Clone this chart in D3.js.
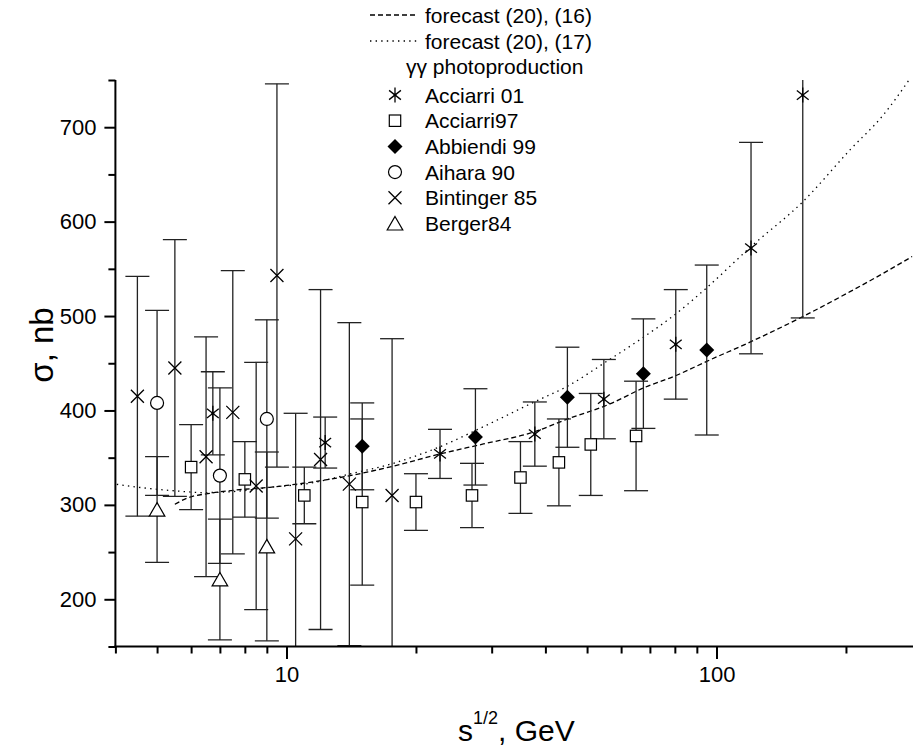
<!DOCTYPE html>
<html>
<head>
<meta charset="utf-8">
<script src="https://cdn.jsdelivr.net/npm/d3@7"></script>
<style>
  body { margin: 0; background: #fff; }
  text { font-family: "Liberation Sans", Arial, sans-serif; fill: #000; }
</style>
</head>
<body>
<div id="container"></div>
<script>
// gamma-gamma photoproduction data: sqrt(s) in GeV, sigma in nb, symmetric errors
const acciarri01X = [6.74, 12.3, 22.75, 37.8, 54.7, 80.4, 120.3, 158.7];
const acciarri01Y = [397, 366, 354, 375, 412, 470, 572, 734];
const acciarri01E = [44, 27, 26, 34, 42, 58, 112, 236];

const acciarri97X = [6, 8, 11, 15, 20, 27, 35, 43, 51, 65];
const acciarri97Y = [340, 327, 310, 303, 303, 310, 329, 345, 364, 373];
const acciarri97E = [45, 40, 30, 88, 30, 34, 38, 46, 54, 58];

const abbiendi99X = [15, 27.5, 45, 67.6, 94.9];
const abbiendi99Y = [362, 372, 414, 439, 464];
const abbiendi99E = [46, 51, 53, 58, 90];

const aihara90X = [5, 7, 9];
const aihara90Y = [408, 331, 391];
const aihara90E = [98, 93, 105];

const bintinger85X = [4.5, 5.5, 6.5, 7.5, 8.5, 9.5, 10.5, 12, 14, 17.6];
const bintinger85Y = [415, 445, 351, 398, 320, 543, 264, 348, 322, 310];
const bintinger85E = [127, 136, 127, 150, 131, 203, 133, 180, 171, 166];

const berger84X = [5, 7, 9];
const berger84Y = [295, 221, 256];
const berger84E = [56, 64, 100];

// forecast curves
const forecast16X = [5.5, 5.86, 6.64, 7.66, 9.15, 10.94, 13.32, 17.72, 22.75, 28.7, 37.8, 44.8, 56.5, 67.6, 80.8, 94.9, 120.3, 158.7, 204.4, 244.3, 285];
const forecast16Y = [300.6, 307, 312.3, 315.8, 318.6, 322.9, 329, 341, 353.9, 364.5, 377.5, 390.6, 406.9, 423.8, 437.3, 452, 472.9, 499.4, 525.8, 545.3, 563];

const forecast17X = [4.03, 4.65, 5.56, 6.41, 7.93, 9.15, 11.34, 14.05, 17.72, 22.75, 28.7, 37.8, 44.8, 56.5, 67.6, 80.8, 94.9, 120.3, 158.7, 204.4, 244.3, 279.3, 295];
const forecast17Y = [321.8, 318, 314.7, 313, 315, 318.6, 322.9, 332.7, 344, 361.6, 382.8, 409.3, 425.2, 454.2, 477.5, 503, 530, 573.5, 621, 676, 713, 749, 765];

const xMajorTicks = [10, 100];
const xMinorTicks = [4, 5, 6, 7, 8, 9, 20, 30, 40, 50, 60, 70, 80, 90, 200];
const yMajorTicks = [200, 300, 400, 500, 600, 700];
const yMinorTicks = [150, 250, 350, 450, 550, 650, 750];

const width = 913, height = 747;
const plotLeft = 115.4, plotBottom = 646.5, plotTop = 80;

const svg = d3.select("#container").append("svg")
  .attr("width", width)
  .attr("height", height);

const x = d3.scaleLog().domain([4, 300]).range([plotLeft, plotLeft + 430 * Math.log10(75)]);
const y = d3.scaleLinear().domain([150, 750]).range([plotBottom, plotTop]);

svg.append("defs").append("clipPath").attr("id", "plot")
  .append("rect")
  .attr("x", plotLeft).attr("y", plotTop)
  .attr("width", width - plotLeft).attr("height", plotBottom - plotTop);

const plot = svg.append("g").attr("clip-path", "url(#plot)");

// forecast curves
function curve(xs, ys, dash) {
  const pts = xs.map((d, i) => [d, ys[i]]);
  plot.append("path")
    .datum(pts)
    .attr("fill", "none")
    .attr("stroke", "#000")
    .attr("stroke-width", 1.3)
    .attr("stroke-dasharray", dash)
    .attr("d", d3.line().x(d => x(d[0])).y(d => y(d[1])).curve(d3.curveMonotoneX));
}
curve(forecast16X, forecast16Y, "5,3");
curve(forecast17X, forecast17Y, "1.4,4.2");

// error bars
function errorBars(xs, ys, es) {
  xs.forEach((d, i) => {
    const cx = x(d);
    const y1 = y(ys[i] - es[i]);
    const y2 = y(ys[i] + es[i]);
    plot.append("line")
      .attr("x1", cx).attr("x2", cx).attr("y1", y1).attr("y2", y2)
      .attr("stroke", "#222").attr("stroke-width", 1.3);
    [y1, y2].forEach(cy => {
      plot.append("line")
        .attr("x1", cx - 12).attr("x2", cx + 12).attr("y1", cy).attr("y2", cy)
        .attr("stroke", "#222").attr("stroke-width", 1.3);
    });
  });
}

// marker shapes
function marker(g, kind, cx, cy) {
  if (kind === "asterisk") {
    const r = 7.5;
    [90, 38, -38].forEach(a => {
      const dx = r * Math.cos(a * Math.PI / 180), dy = r * Math.sin(a * Math.PI / 180);
      g.append("line")
        .attr("x1", cx - dx).attr("x2", cx + dx).attr("y1", cy - dy).attr("y2", cy + dy)
        .attr("stroke", "#000").attr("stroke-width", 1.3);
    });
    g.append("circle").attr("cx", cx).attr("cy", cy).attr("r", 1.4).attr("fill", "#000");
  } else if (kind === "square") {
    g.append("rect")
      .attr("x", cx - 5.7).attr("y", cy - 5.7).attr("width", 11.4).attr("height", 11.4)
      .attr("fill", "#fff").attr("stroke", "#000").attr("stroke-width", 1.2);
  } else if (kind === "diamond") {
    g.append("path")
      .attr("d", `M${cx},${cy - 7.5}L${cx + 7.5},${cy}L${cx},${cy + 7.5}L${cx - 7.5},${cy}Z`)
      .attr("fill", "#000");
  } else if (kind === "circle") {
    g.append("circle")
      .attr("cx", cx).attr("cy", cy).attr("r", 6.5)
      .attr("fill", "#fff").attr("stroke", "#000").attr("stroke-width", 1.2);
  } else if (kind === "cross") {
    const r = 6.5;
    g.append("path")
      .attr("d", `M${cx - r},${cy - r}L${cx + r},${cy + r}M${cx - r},${cy + r}L${cx + r},${cy - r}`)
      .attr("stroke", "#000").attr("stroke-width", 1.3).attr("fill", "none");
  } else if (kind === "triangle") {
    g.append("path")
      .attr("d", `M${cx},${cy - 7}L${cx + 7.8},${cy + 6.5}L${cx - 7.8},${cy + 6.5}Z`)
      .attr("fill", "#fff").attr("stroke", "#000").attr("stroke-width", 1.2);
  }
}

const series = [
  { name: "Acciarri 01", kind: "asterisk", xs: acciarri01X, ys: acciarri01Y, es: acciarri01E },
  { name: "Acciarri97", kind: "square", xs: acciarri97X, ys: acciarri97Y, es: acciarri97E },
  { name: "Abbiendi 99", kind: "diamond", xs: abbiendi99X, ys: abbiendi99Y, es: abbiendi99E },
  { name: "Aihara 90", kind: "circle", xs: aihara90X, ys: aihara90Y, es: aihara90E },
  { name: "Bintinger 85", kind: "cross", xs: bintinger85X, ys: bintinger85Y, es: bintinger85E },
  { name: "Berger84", kind: "triangle", xs: berger84X, ys: berger84Y, es: berger84E }
];

series.forEach(s => errorBars(s.xs, s.ys, s.es));
series.forEach(s => {
  s.xs.forEach((d, i) => marker(plot, s.kind, x(d), y(s.ys[i])));
});

// axes
const xMajor = svg.append("g")
  .attr("transform", `translate(0,${plotBottom})`)
  .call(d3.axisBottom(x).tickValues(xMajorTicks).tickSize(12.5).tickPadding(7).tickFormat(d3.format("d")));
const xMinor = svg.append("g")
  .attr("transform", `translate(0,${plotBottom})`)
  .call(d3.axisBottom(x).tickValues(xMinorTicks).tickSize(7).tickFormat(""));
const yMajor = svg.append("g")
  .attr("transform", `translate(${plotLeft},0)`)
  .call(d3.axisLeft(y).tickValues(yMajorTicks).tickSize(11).tickPadding(8));
const yMinor = svg.append("g")
  .attr("transform", `translate(${plotLeft},0)`)
  .call(d3.axisLeft(y).tickValues(yMinorTicks).tickSize(7).tickFormat(""));

[xMajor, xMinor, yMajor, yMinor].forEach(g => {
  g.select(".domain").remove();
  g.selectAll(".tick line").attr("stroke", "#000").attr("stroke-width", 2);
  g.selectAll(".tick text").style("font-size", "22px").attr("fill", "#000");
});

svg.append("line")
  .attr("x1", plotLeft).attr("x2", plotLeft).attr("y1", plotTop).attr("y2", plotBottom + 1)
  .attr("stroke", "#000").attr("stroke-width", 2);
svg.append("line")
  .attr("x1", plotLeft - 1).attr("x2", width).attr("y1", plotBottom).attr("y2", plotBottom)
  .attr("stroke", "#000").attr("stroke-width", 2.2);

// axis titles
const xt = svg.append("text")
  .attr("x", 458).attr("y", 741)
  .style("font-size", "30px");
xt.append("tspan").text("s");
xt.append("tspan").attr("dy", -17).style("font-size", "18px").text("1/2");
xt.append("tspan").attr("dy", 17).text(", GeV");

svg.append("text")
  .attr("transform", "translate(53,345) rotate(-90)")
  .attr("text-anchor", "middle")
  .style("font-size", "33px")
  .text("σ, nb");

// legend
const lg = svg.append("g");
lg.append("line").attr("x1", 370).attr("x2", 417).attr("y1", 15).attr("y2", 15)
  .attr("stroke", "#000").attr("stroke-width", 1.3).attr("stroke-dasharray", "5,3");
lg.append("text").attr("x", 425).attr("y", 22.5).style("font-size", "21px").text("forecast (20), (16)");
lg.append("line").attr("x1", 370).attr("x2", 417).attr("y1", 41).attr("y2", 41)
  .attr("stroke", "#000").attr("stroke-width", 1.3).attr("stroke-dasharray", "1.4,4.2");
lg.append("text").attr("x", 425).attr("y", 48.5).style("font-size", "21px").text("forecast (20), (17)");
lg.append("text").attr("x", 406).attr("y", 74).style("font-size", "21px").text("γγ photoproduction");

series.forEach((s, i) => {
  const cy = 95 + i * 25.7;
  marker(lg, s.kind, 395, cy);
  lg.append("text").attr("x", 425).attr("y", cy + 7.5).style("font-size", "21px").text(s.name);
});
</script>
</body>
</html>
